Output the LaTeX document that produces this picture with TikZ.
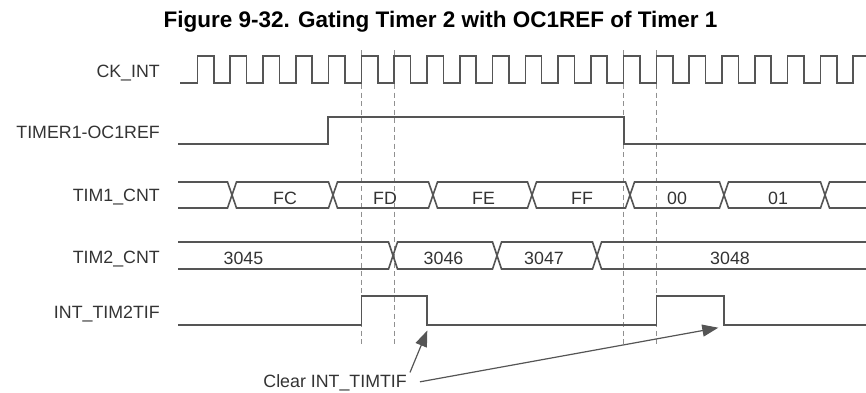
\documentclass[tikz,border=0pt]{standalone}
\usepackage{fontspec}
\setmainfont{Liberation Sans}
\usetikzlibrary{arrows.meta}
\definecolor{wavec}{HTML}{555555}
\definecolor{guidec}{HTML}{909090}
\definecolor{labelc}{HTML}{333333}
\begin{document}
\begin{tikzpicture}[x=1pt,y=-1pt,
  wave/.style={line width=1.6pt,draw=wavec,line join=miter},
  guide/.style={line width=1.1pt,draw=guidec,dash pattern=on 5pt off 3.5pt},
  lbl/.style={text=labelc,font=\fontsize{17.8}{20}\selectfont,inner sep=0pt},
  arr/.style={line width=1.2pt,draw=wavec,-{Triangle[length=16pt,width=12pt]}}]
\useasboundingbox (0,0) rectangle (866,392);

% title
\node[font=\bfseries\fontsize{22.5}{26}\selectfont,anchor=base,inner sep=0pt] (title) at (440.5,27) {Figure 9-32. Gating Timer 2 with OC1REF of Timer 1};

% signal names
\node[lbl,anchor=base east] (lck) at (160,77) {CK\_INT};
\node[lbl,anchor=base east] (loc) at (160,138) {TIMER1-OC1REF};
\node[lbl,anchor=base east] (lt1) at (160,201) {TIM1\_CNT};
\node[lbl,anchor=base east] (lt2) at (160,263) {TIM2\_CNT};
\node[lbl,anchor=base east] (lif) at (160,318) {INT\_TIM2TIF};

% dashed guides
\foreach \gx in {361.4,394.2,623.7,656.5}
  \draw[guide] (\gx,50) -- (\gx,345);

% CK_INT
\draw[wave] (180,83) foreach \i in {0,...,19} { -- ({197.5+32.78*\i},83) -- ++(0,-27) -- ++(16.39,0) -- ++(0,27) } -- (853.1,83) -- (853.1,56) -- (866,56);

% TIMER1-OC1REF
\draw[wave] (178,144) -- (328,144) -- (328,117) -- (623.7,117) -- (623.7,144) -- (866,144);

% TIM1_CNT bus
\draw[wave] (178,182) -- (227.5,182) -- (236.5,208) -- (328.5,208) -- (337.5,182) -- (428.5,182) -- (437.5,208) -- (527.5,208) -- (536.5,182) -- (625.5,182) -- (634.5,208) -- (719.5,208) -- (728.5,182) -- (820.5,182) -- (829.5,208) -- (866,208);
\draw[wave] (178,208) -- (227.5,208) -- (236.5,182) -- (328.5,182) -- (337.5,208) -- (428.5,208) -- (437.5,182) -- (527.5,182) -- (536.5,208) -- (625.5,208) -- (634.5,182) -- (719.5,182) -- (728.5,208) -- (820.5,208) -- (829.5,182) -- (866,182);
\node[lbl,anchor=base] (vfc) at (285,204) {FC};
\node[lbl,anchor=base] (vfd) at (385,204) {FD};
\node[lbl,anchor=base] (vfe) at (483.5,204) {FE};
\node[lbl,anchor=base] (vff) at (582,204) {FF};
\node[lbl,anchor=base] (v00) at (677,204) {00};
\node[lbl,anchor=base] (v01) at (778,204) {01};

% TIM2_CNT bus
\draw[wave] (178,242) -- (388.5,242) -- (397.5,269) -- (492.5,269) -- (501.5,242) -- (592.5,242) -- (601.5,269) -- (866,269);
\draw[wave] (178,269) -- (388.5,269) -- (397.5,242) -- (492.5,242) -- (501.5,269) -- (592.5,269) -- (601.5,242) -- (866,242);
\node[lbl,anchor=base] (v45) at (243.5,264) {3045};
\node[lbl,anchor=base] (v46) at (443.5,264) {3046};
\node[lbl,anchor=base] (v47) at (544,264) {3047};
\node[lbl,anchor=base] (v48) at (730,264) {3048};

% INT_TIM2TIF
\draw[wave] (178,325) -- (361.4,325) -- (361.4,296) -- (427,296) -- (427,325) -- (656.5,325) -- (656.5,296) -- (724,296) -- (724,325) -- (866,325);

% annotation
\node[lbl,anchor=base east] (clr) at (407,387.5) {Clear INT\_TIMTIF};
\coordinate (t1) at (427.3,330.5);
\coordinate (t2) at (718.3,327.7);
\draw[arr] ([shift={(3,-2)}]clr.north east) -- (t1);
\draw[arr] ([shift={(13,-1)}]clr.east) -- (t2);
\end{tikzpicture}
\end{document}
